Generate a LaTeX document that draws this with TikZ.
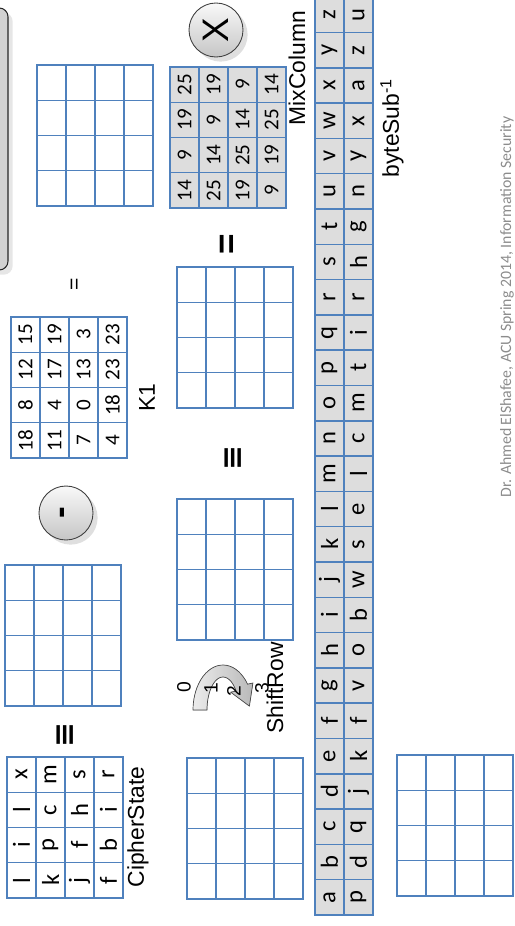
\documentclass[tikz,border=0pt]{standalone}
\usepackage{fontspec}
\setmainfont{Liberation Sans}
\newfontfamily\calfont{Carlito}
\newfontfamily\symfont{DejaVu Sans}
\usetikzlibrary{shadows}
\definecolor{gBlue}{HTML}{4F81BD}
\definecolor{gFill}{HTML}{DDDDDD}
\definecolor{gFoot}{HTML}{8C8C8C}

% 4x4 state grid: name, left x, bottom y (slide rows run left to right)
\newcommand{\emptygrid}[3]{%
  \foreach \r in {0,...,3}
    \foreach \c in {0,...,3}
      \node[cell] (#1-\r-\c) at ({#2+(\r+0.5)*29},{#3-(\c+0.5)*35.25}) {};
}
\newcommand{\fullgrid}[5][]{%
  \foreach \v [count=\i from 0] in {#5} {
    \pgfmathtruncatemacro{\r}{\i/4}
    \pgfmathtruncatemacro{\c}{mod(\i,4)}
    \node[cell, #1] (#2-\r-\c) at ({#3+(\r+0.5)*29},{#4-(\c+0.5)*35.25}) {\v};
  }
}

\begin{document}
\begin{tikzpicture}[x=0.02cm, y=-0.02cm,
  cell/.style={draw=gBlue, line width=0.8pt, rotate=90, minimum width=0.705cm,
               minimum height=0.58cm, inner sep=0pt,
               font=\calfont\fontsize{12}{13}\selectfont},
  letters/.style={font=\calfont\fontsize{14}{15}\selectfont},
  lbl/.style={rotate=90, inner sep=0pt, font=\fontsize{13}{14}\selectfont},
  num/.style={rotate=90, inner sep=0pt, font=\fontsize{11}{12}\selectfont},
  sym/.style={rotate=90, inner sep=0pt},
  op/.style={circle, rotate=90, minimum size=1.08cm, draw=black!75, line width=0.5pt,
             top color=gray!5, bottom color=gray!45, drop shadow={opacity=0.25}},
]
  \useasboundingbox (0,0) rectangle (514,926);

  % bar cut off at the top of the slide
  \draw[fill=gray!35, draw=gray!30!black, line width=0.6pt, rounded corners=5pt,
        drop shadow={opacity=0.2}] (-30,8) rectangle (8,270);

  % grids
  \emptygrid{s1}{37}{206}
  \fullgrid[fill=gFill]{mix}{170}{208}{14,9,19,25, 25,14,9,19, 19,25,14,9, 9,19,25,14}
  \fullgrid{key}{11}{458}{18,8,12,15, 11,4,17,19, 7,0,13,3, 4,18,23,23}
  \emptygrid{s2}{177}{408}
  \emptygrid{s3}{177}{640}
  \emptygrid{s4}{5}{706}
  \fullgrid[letters]{cs}{7}{898}{l,i,l,x, k,p,c,m, j,f,h,s, f,b,i,r}
  \emptygrid{s5}{187}{899}
  \emptygrid{s6}{397}{896}

  % byteSub table
  \foreach \a/\b [count=\k from 0] in {a/p,b/d,c/q,d/j,e/k,f/f,g/v,h/o,i/b,j/w,k/s,
      l/e,m/l,n/c,o/m,p/t,q/i,r/r,s/h,t/g,u/n,v/y,w/x,x/a,y/z,z/u} {
    \node[cell, letters, fill=gFill] (sb-0-\k) at (329.5,{915-(\k+0.5)*35.3}) {\a};
    \node[cell, letters, fill=gFill] (sb-1-\k) at (358.5,{915-(\k+0.5)*35.3}) {\b};
  }

  % operators
  \node[op, font=\fontsize{21}{21}\selectfont] (times) at (216,30) {X};
  \node[op, font=\bfseries\fontsize{20}{20}\selectfont] (minus) at (66,513) {-};
  \node[sym, font=\fontsize{12}{12}\selectfont] (eqK) at (76,284) {=};
  \node[sym, font=\bfseries\fontsize{20}{20}\selectfont] (eqMix) at (229,244) {=};
  \node[sym, font=\symfont\bfseries\fontsize{17}{17}\selectfont] (eqv1) at (234,458) {≡};
  \node[sym, font=\symfont\bfseries\fontsize{17}{17}\selectfont] (eqv2) at (66,735) {≡};

  % shift arrow
  \filldraw[left color=gray!15, right color=gray!55, draw=black!70, line width=0.4pt]
    plot[domain=180:35, samples=25, variable=\t] ({223+30*cos(\t)},{710-45*sin(\t)})
    -- (252.9,683) -- (249.4,706.1) -- (230.7,692.2)
    -- plot[domain=35:180, samples=25, variable=\t] ({223+16*cos(\t)},{710-33*sin(\t)})
    -- cycle;
  \node[num] (sh0) at (184,687) {0};
  \node[num] (sh1) at (211,688) {1};
  \node[num] (sh2) at (234,691) {2};
  \node[num] (sh3) at (262,688) {3};

  % labels
  \node[lbl] (csName) at (138,827) {CipherState};
  \node[lbl] (keyName) at (147,398) {K1};
  \node[lbl] (mixName) at (297,68) {MixColumn};
  \node[lbl] (sbName) at (392,128) {byteSub\textsuperscript{-1}};
  \node[lbl] (shName) at (275,688) {ShiftRow};
  \node[rotate=90, inner sep=0pt, text=gFoot, font=\calfont\fontsize{9}{10}\selectfont]
    (foot) at (507,307) {Dr. Ahmed ElShafee, ACU Spring 2014, Information Security};
\end{tikzpicture}
\end{document}
